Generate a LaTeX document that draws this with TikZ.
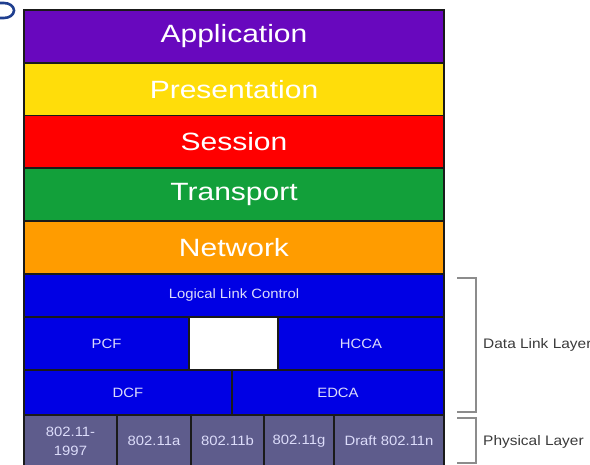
\documentclass[tikz,border=0pt]{standalone}
\usepackage{fontspec}
\setmainfont{Liberation Sans}
\definecolor{cApp}{HTML}{6808BE}
\definecolor{cPres}{HTML}{FFDD0A}
\definecolor{cSess}{HTML}{FF0000}
\definecolor{cTrans}{HTML}{12A03A}
\definecolor{cNet}{HTML}{FF9C00}
\definecolor{cBlue}{HTML}{0000E4}
\definecolor{cPhys}{HTML}{5E5C8C}
\definecolor{cLine}{HTML}{1A1A1A}
\definecolor{cSmallTxt}{HTML}{DCDCFA}
\definecolor{cBrack}{HTML}{8C8C8C}
\definecolor{cLabel}{HTML}{3A3A3A}
\definecolor{cLogo}{HTML}{1F3F8F}
\newcommand{\bigtxt}[1]{\scalebox{1.2}[1]{\fontsize{25}{28}\selectfont #1}}
\newcommand{\smalltxt}[1]{\scalebox{1.1}[1]{\fontsize{13.5}{15}\selectfont #1}}
\newcommand{\labeltxt}[1]{\scalebox{1.12}[1]{\fontsize{13.8}{15}\selectfont #1}}
\tikzset{
  cell/.style={draw=cLine, line width=1.5pt, rectangle, inner sep=0pt, outer sep=0pt, align=center},
  band/.style={cell, minimum width=420pt, minimum height=53pt, text=white},
  bluecell/.style={cell, fill=cBlue, text=cSmallTxt},
  physcell/.style={cell, fill=cPhys, text=cSmallTxt, minimum height=52pt, font=\fontsize{13.5}{17}\selectfont},
  bracket/.style={draw=cBrack, line width=1.6pt},
  layerlabel/.style={anchor=west, inner sep=0pt, text=cLabel}
}
\begin{document}
\begin{tikzpicture}[x=1pt,y=-1pt]
\useasboundingbox (0,0) rectangle (590,465);
\begin{scope}
\clip (0,0) rectangle (590,465);
% logo fragment
\draw[cLogo, line width=2.6pt] (-2,3) -- (4,3) arc[start angle=-90, end angle=90, x radius=10, y radius=7.5] -- (-2,18);
% OSI bands
\node[band, fill=cApp]   (app)   at (234,36.5)  {\bigtxt{Application}};
\node[band, fill=cPres]  (pres)  at (234,89.5)  {\bigtxt{Presentation}};
\node[band, fill=cSess]  (sess)  at (234,142)   {\bigtxt{Session}};
\node[band, fill=cTrans] (trans) at (234,194.5) {\bigtxt{Transport}};
\node[band, fill=cNet]   (net)   at (234,247.5) {\bigtxt{Network}};
% data link
\node[bluecell, minimum width=420pt, minimum height=43pt] (llc) at (234,295.5) {\smalltxt{Logical Link Control}};
\node[bluecell, minimum width=165pt, minimum height=53pt] (pcf) at (106.5,343.5) {\smalltxt{PCF}};
\node[cell, fill=white, minimum width=89pt, minimum height=53pt] (blank) at (233.5,343.5) {};
\node[bluecell, minimum width=166pt, minimum height=53pt] (hcca) at (361,343.5) {\smalltxt{HCCA}};
\node[bluecell, minimum width=208pt, minimum height=45pt] (dcf) at (128,392.5) {\smalltxt{DCF}};
\node[bluecell, minimum width=212pt, minimum height=45pt] (edca) at (338,392.5) {\smalltxt{EDCA}};
% physical
\node[physcell, minimum width=93pt] (p1) at (70.5,441) {\smalltxt{802.11-}\\[2pt]\smalltxt{1997}};
\node[physcell, minimum width=74pt] (p2) at (154,441) {\smalltxt{802.11a}};
\node[physcell, minimum width=73pt] (p3) at (227.5,441) {\smalltxt{802.11b}};
\node[physcell, minimum width=70pt] (p4) at (299,441) {\smalltxt{802.11g}};
\node[physcell, minimum width=110pt] (p5) at (389,441) {\smalltxt{Draft 802.11n}};
% outer frame
\draw[cLine, line width=2.2pt] (app.north west) rectangle (p5.south east);
% brackets
\coordinate (dlTop) at (457,278);
\coordinate (dlBot) at (457,412);
\coordinate (phTop) at (457,418);
\coordinate (phBot) at (457,463);
\draw[bracket] (dlTop) -- ++(19,0) |- (dlBot);
\draw[bracket] (phTop) -- ++(19,0) |- (phBot);
\node[layerlabel] (dll) at (483,345) {\labeltxt{Data Link Layer}};
\node[layerlabel] (phl) at (483,442) {\labeltxt{Physical Layer}};
\end{scope}
\end{tikzpicture}
\end{document}
